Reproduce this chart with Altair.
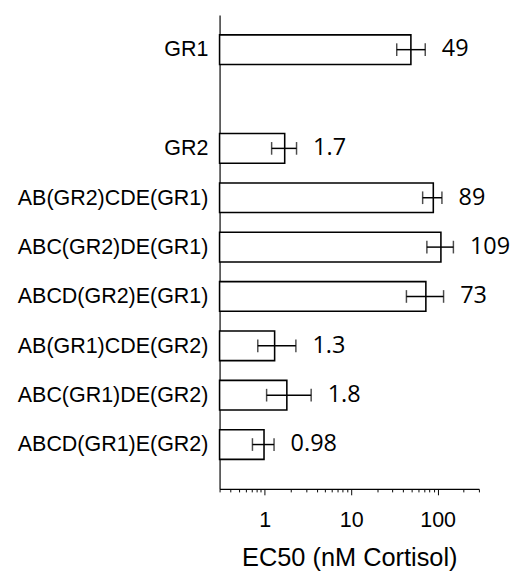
import altair as alt
import pandas as pd

AXIS_MIN = 0.3
AXIS_MAX = 300
categories = ["GR1", " ", "GR2", "AB(GR2)CDE(GR1)", "ABC(GR2)DE(GR1)", "ABCD(GR2)E(GR1)",
              "AB(GR1)CDE(GR2)", "ABC(GR1)DE(GR2)", "ABCD(GR1)E(GR2)"]
bar_names = ["GR1", "GR2", "AB(GR2)CDE(GR1)", "ABC(GR2)DE(GR1)", "ABCD(GR2)E(GR1)",
             "AB(GR1)CDE(GR2)", "ABC(GR1)DE(GR2)", "ABCD(GR1)E(GR2)"]
ec50 = [49, 1.7, 89, 109, 73, 1.3, 1.8, 0.98]
err_low = [33.6, 1.2, 67, 75, 43.5, 0.83, 1.05, 0.72]
err_high = [71.8, 2.33, 112, 152, 117, 2.29, 3.44, 1.28]
value_labels = ["49", "1.7", "89", "109", "73", "1.3", "1.8", "0.98"]
major_ticks = [1, 10, 100]
minor_ticks = [0.3, 0.4, 0.5, 0.6, 0.7, 0.8, 0.9, 2, 3, 4, 5, 6, 7, 8, 9,
               20, 30, 40, 50, 60, 70, 80, 90, 200, 300]

df = pd.DataFrame({"name": bar_names, "ec50": ec50, "lo": err_low, "hi": err_high,
                   "label": value_labels, "base": [AXIS_MIN] * len(bar_names)})

xscale = alt.Scale(type="log", domain=[AXIS_MIN, AXIS_MAX], nice=False)
yscale = alt.Scale(domain=categories, paddingInner=0.4, paddingOuter=0.5, align=0.4)

ybase = alt.Y("name:N", scale=yscale, sort=categories)

bars = alt.Chart(df).mark_bar(fill="white", stroke="black", strokeWidth=1.6).encode(
    x=alt.X("ec50:Q", scale=xscale,
            axis=alt.Axis(values=major_ticks, format="~g", tickSize=6, tickColor="black",
                          tickWidth=1, domainColor="black", domainWidth=1.2,
                          labelFont="Liberation Sans", labelFontSize=22, labelColor="black",
                          labelPadding=16, grid=False, title="EC50 (nM Cortisol)",
                          titleFont="Liberation Sans", titleFontSize=26,
                          titleFontWeight="normal", titleColor="black", titlePadding=14,
                          orient="bottom")),
    x2="base:Q",
    y=alt.Y("name:N", scale=yscale, sort=categories,
            axis=alt.Axis(title=None, ticks=False, labelFont="Liberation Sans",
                          labelFontSize=22, labelColor="black", labelPadding=12,
                          domainColor="black", domainWidth=1.2, grid=False,
                          minExtent=209, maxExtent=209, labelLimit=300)),
)

rules = alt.Chart(df).mark_rule(color="black", strokeWidth=1.5).encode(
    x=alt.X("lo:Q", scale=xscale,
            axis=alt.Axis(values=minor_ticks, tickSize=3, tickColor="black", tickWidth=1,
                          labels=False, domain=False, grid=False, title=None,
                          orient="bottom")),
    x2="hi:Q",
    y=ybase,
)

caps_lo = alt.Chart(df).mark_tick(color="black", thickness=1.5, size=13).encode(
    x=alt.X("lo:Q", scale=xscale, axis=None),
    y=ybase,
)
caps_hi = alt.Chart(df).mark_tick(color="black", thickness=1.5, size=13).encode(
    x=alt.X("hi:Q", scale=xscale, axis=None),
    y=ybase,
)

texts = alt.Chart(df).mark_text(align="left", baseline="middle", dx=17,
                                font="Open Sans", fontSize=24, color="black").encode(
    x=alt.X("hi:Q", scale=xscale, axis=None),
    y=ybase,
    text="label:N",
)

chart = alt.layer(bars, rules, caps_lo, caps_hi, texts).resolve_axis(
    x="independent"
).properties(
    width=266, height=486,
    padding={"left": 8, "top": 0, "right": 5, "bottom": 0},
).configure_view(stroke=None)

chart.save("out.html", embed_options={"renderer": "svg", "actions": False})
